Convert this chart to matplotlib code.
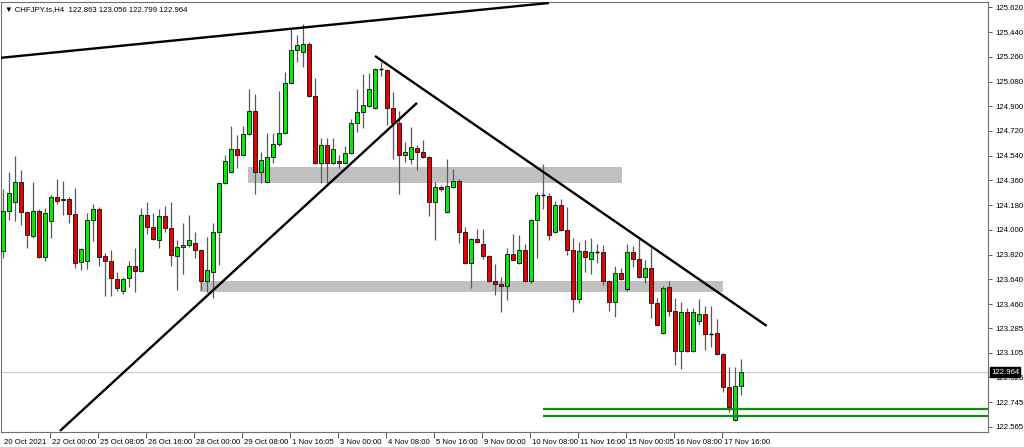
import matplotlib
matplotlib.use("Agg")
import matplotlib.pyplot as plt
from matplotlib.transforms import ScaledTranslation, blended_transform_factory

plt.rcParams['font.family'] = ['Liberation Sans', 'DejaVu Sans']

# CHFJPY H4 candles, 20 Oct - 17 Nov 2021
opens = [
    123.847, 124.138, 124.203, 124.349, 124.130, 123.956, 124.138, 123.803, 124.065, 124.240,
    124.218, 124.225, 124.116, 123.766, 123.774, 124.072, 124.152, 123.810, 123.774, 123.642,
    123.556, 123.650, 123.737, 123.701, 124.109, 124.021, 123.927, 124.101, 124.014, 123.810,
    123.876, 123.891, 123.905, 123.854, 123.629, 123.693, 123.985, 124.342, 124.421, 124.589,
    124.546, 124.699, 124.866, 124.421, 124.349, 124.531, 124.626, 124.706, 125.070, 125.310,
    125.295, 125.354, 124.975, 124.487, 124.619, 124.487, 124.502, 124.487, 124.560, 124.778,
    124.858, 124.902, 124.888, 125.171, 125.164, 124.888, 124.778, 124.546, 124.516, 124.597,
    124.567, 124.531, 124.203, 124.313, 124.130, 124.313, 124.357, 123.985, 123.759, 123.934,
    123.898, 123.810, 123.629, 123.607, 123.592, 123.825, 123.759, 123.854, 123.629, 124.072,
    124.255, 124.247, 123.985, 124.182, 124.000, 123.854, 123.497, 123.847, 123.788, 123.839,
    123.839, 123.629, 123.475, 123.686, 123.570, 123.839, 123.788, 123.657, 123.723, 123.468,
    123.250, 123.585, 123.410, 123.119, 123.402, 123.119, 123.337, 123.388, 123.243, 123.250,
    123.097, 122.857, 122.616, 122.863]
highs = [
    124.298, 124.421, 124.538, 124.436, 124.138, 124.349, 124.152, 124.160, 124.255, 124.370,
    124.357, 124.240, 124.306, 123.869, 124.123, 124.189, 124.167, 123.832, 123.854, 123.693,
    123.657, 123.774, 123.869, 124.160, 124.203, 124.123, 124.152, 124.174, 124.203, 123.927,
    124.050, 124.109, 123.985, 123.861, 123.949, 124.050, 124.349, 124.546, 124.756, 124.692,
    124.756, 125.026, 124.990, 124.567, 124.706, 124.706, 125.012, 125.149, 125.462, 125.420,
    125.499, 125.368, 125.106, 124.670, 124.670, 124.670, 124.546, 124.611, 124.807, 125.026,
    125.135, 125.142, 125.179, 125.222, 125.171, 125.004, 124.866, 124.640, 124.749, 124.619,
    124.655, 124.538, 124.349, 124.328, 124.516, 124.443, 124.370, 124.021, 123.942, 124.007,
    124.007, 123.818, 123.752, 123.657, 123.869, 123.971, 123.964, 123.898, 124.079, 124.276,
    124.480, 124.269, 124.211, 124.225, 124.167, 123.942, 123.912, 123.927, 123.942, 123.898,
    123.891, 123.636, 123.737, 123.723, 123.898, 123.883, 123.934, 123.781, 123.869, 123.505,
    123.592, 123.629, 123.505, 123.475, 123.432, 123.432, 123.497, 123.446, 123.446, 123.351,
    123.104, 123.002, 123.002, 123.056]
lows = [
    123.796, 124.072, 124.065, 124.036, 123.869, 123.942, 123.796, 123.774, 123.942, 124.189,
    124.109, 124.050, 123.723, 123.708, 123.715, 123.920, 123.737, 123.519, 123.519, 123.556,
    123.534, 123.585, 123.548, 123.693, 123.971, 123.927, 123.869, 123.985, 123.737, 123.563,
    123.679, 123.876, 123.796, 123.563, 123.548, 123.505, 123.745, 124.335, 124.414, 124.451,
    124.538, 124.692, 124.262, 124.342, 124.342, 124.487, 124.611, 124.699, 125.063, 125.222,
    125.186, 124.968, 124.480, 124.342, 124.342, 124.480, 124.451, 124.480, 124.553, 124.713,
    124.742, 124.895, 124.880, 125.120, 124.764, 124.516, 124.262, 124.494, 124.480, 124.436,
    124.524, 124.101, 123.927, 124.284, 124.123, 124.306, 123.905, 123.752, 123.578, 123.905,
    123.788, 123.621, 123.527, 123.402, 123.490, 123.774, 123.752, 123.621, 123.614, 123.796,
    124.152, 123.927, 123.978, 123.993, 123.818, 123.402, 123.468, 123.693, 123.679, 123.759,
    123.600, 123.410, 123.366, 123.636, 123.556, 123.730, 123.650, 123.614, 123.359, 123.300,
    123.243, 123.373, 123.017, 122.987, 123.111, 123.111, 123.308, 123.126, 123.148, 123.090,
    122.820, 122.674, 122.609, 122.799]
closes = [
    124.138, 124.269, 124.349, 124.130, 123.964, 124.138, 123.803, 124.123, 124.240, 124.211,
    124.225, 124.116, 123.759, 123.861, 124.072, 124.152, 123.803, 123.774, 123.650, 123.578,
    123.642, 123.737, 123.701, 124.109, 124.021, 123.934, 124.101, 124.014, 123.818, 123.876,
    123.891, 123.927, 123.854, 123.629, 123.708, 123.985, 124.342, 124.502, 124.589, 124.546,
    124.699, 124.866, 124.421, 124.509, 124.531, 124.626, 124.706, 125.070, 125.310, 125.347,
    125.354, 124.975, 124.487, 124.619, 124.487, 124.589, 124.487, 124.560, 124.778, 124.858,
    124.910, 125.026, 125.171, 125.171, 124.888, 124.778, 124.546, 124.567, 124.604, 124.567,
    124.531, 124.203, 124.313, 124.298, 124.320, 124.357, 123.985, 123.759, 123.934, 123.912,
    123.810, 123.629, 123.607, 123.592, 123.825, 123.781, 123.854, 123.629, 124.072, 124.255,
    124.255, 123.964, 124.182, 124.000, 123.854, 123.497, 123.847, 123.803, 123.839, 123.839,
    123.629, 123.475, 123.686, 123.642, 123.839, 123.788, 123.657, 123.723, 123.468, 123.308,
    123.578, 123.410, 123.119, 123.402, 123.119, 123.402, 123.388, 123.243, 123.243, 123.097,
    122.857, 122.711, 122.863, 122.964]

time_labels = ["20 Oct 2021", "22 Oct 00:00", "25 Oct 08:05", "26 Oct 16:00", "28 Oct 00:00",
               "29 Oct 08:00", "1 Nov 16:05", "3 Nov 00:00", "4 Nov 08:00", "5 Nov 16:00",
               "9 Nov 00:00", "10 Nov 08:00", "11 Nov 16:00", "15 Nov 00:05", "16 Nov 08:00",
               "17 Nov 16:00"]
label_bars = [0, 8, 16, 24, 32, 40, 48, 56, 64, 72, 80, 88, 96, 104, 112, 120]
price_ticks = [125.620, 125.440, 125.260, 125.080, 124.900, 124.720, 124.540, 124.360, 124.180,
               124.000, 123.820, 123.640, 123.460, 123.285, 123.105, 122.925, 122.745, 122.565]

# drawn objects: (bar, price) end points
top_line = [(-0.5, 125.252), (91, 125.652)]
up_trend = [(9.5, 122.536), (69, 124.924)]
down_trend = [(62, 125.266), (127.3, 123.300)]
zones = [(40.8, 103.2, 124.342, 124.458), (32.8, 120.0, 123.548, 123.629)]
support_lines = [122.696, 122.645]
support_start = 90
bid = closes[-1]

fig = plt.figure(figsize=(10.24, 4.47), dpi=100)
ax = fig.add_axes([1 / 1024, 15 / 447, 987 / 1024, 430 / 447])
x_right = 164.17
ax.set_xlim(-0.33, x_right)
ax.set_ylim(122.528, 125.659)

for x0, x1, y0, y1 in zones:
    ax.fill_between([x0, x1], y0, y1, color='#c0c0c0', lw=0, zorder=1)

ax.axhline(bid, color='#c8c8c8', lw=0.8, zorder=0.5)

idx = list(range(len(opens)))
ax.vlines(idx, lows, highs, color='#5a5a5a', lw=0.9, zorder=2)
for i in idx:
    o, c = opens[i], closes[i]
    if o == c:
        ax.hlines(o, i - 0.32, i + 0.32, color='black', lw=1.0, zorder=3)
        continue
    col = '#00ee00' if c > o else '#ee0000'
    ax.bar(i, abs(c - o), bottom=min(o, c), width=0.62, color=col,
           edgecolor='#202020', linewidth=0.7, zorder=3)

for line in (top_line, up_trend, down_trend):
    ax.plot([p[0] for p in line], [p[1] for p in line], color='black', lw=1.7,
            solid_capstyle='butt', zorder=4)

ax.hlines(support_lines, support_start, x_right, color='#108a10', lw=1.6, zorder=4)

# axes styling like the terminal
for s in ax.spines.values():
    s.set_color('#707070')
    s.set_linewidth(0.8)
ax.yaxis.tick_right()
ax.set_yticks(price_ticks, [f"{v:.3f}" for v in price_ticks])
ax.set_xticks([b - 0.2 for b in label_bars], time_labels)
ax.tick_params(axis='y', length=3, width=0.6, color='#404040', pad=2, labelsize=5.6)
ax.tick_params(axis='x', length=4, width=0.6, color='#404040', pad=1, labelsize=5.6)
shift = ScaledTranslation(2 / 100, 0, fig.dpi_scale_trans)
for lab in ax.get_xticklabels():
    lab.set_ha('left')
    lab.set_transform(lab.get_transform() + shift)
ax.xaxis.get_major_ticks()[0].tick1line.set_visible(False)

trans = blended_transform_factory(ax.transAxes, ax.transData)
ax.text(1.0, bid, f"{bid:.3f}", transform=trans + ScaledTranslation(3 / 100, 0, fig.dpi_scale_trans),
        ha='left', va='center', fontsize=5.6, color='white', zorder=10, clip_on=False,
        bbox=dict(boxstyle='square,pad=0.15', fc='black', ec='black'))

ax.text(0.004, 0.99, f"\u25bc CHFJPY.ts,H4  {opens[-1]:.3f} {highs[-1]:.3f} {lows[-1]:.3f} {closes[-1]:.3f}",
        transform=ax.transAxes, ha='left', va='top', fontsize=5.6, color='black')

fig.savefig("out.png", dpi=100, facecolor='white')
